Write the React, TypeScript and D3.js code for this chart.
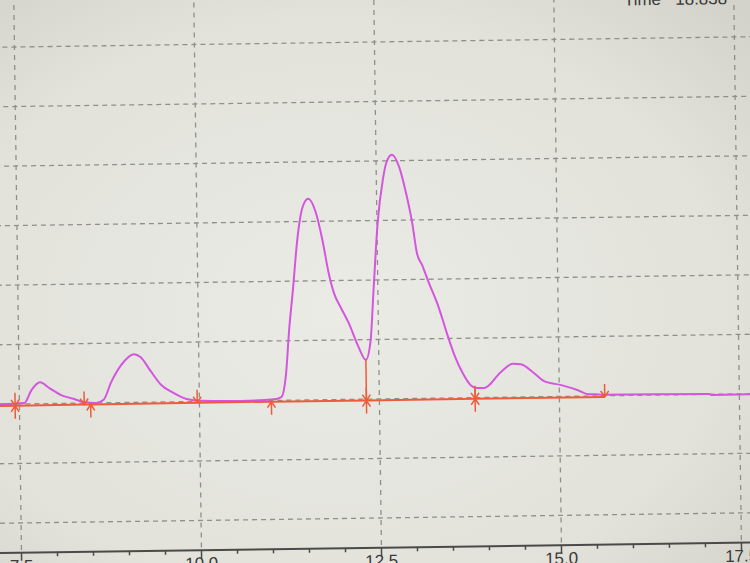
import * as d3 from "d3";

// retention time (min) and detector signal
const traceTime = [7.2, 7.57, 7.67, 7.79, 7.92, 8.08, 8.25, 8.39, 8.57, 8.67, 8.78, 8.92, 9.10, 9.19, 9.33, 9.47, 9.64, 9.82, 10.03, 10.58,
  11.07, 11.14, 11.21, 11.26, 11.32, 11.39, 11.47, 11.55, 11.65, 11.74, 11.82, 11.89, 11.98, 12.09, 12.22, 12.32,
  12.39, 12.44, 12.51, 12.59, 12.64, 12.72, 12.82, 12.90, 12.99, 13.05, 13.12, 13.21, 13.34, 13.45, 13.56, 13.66, 13.77, 13.86,
  13.96, 14.19, 14.36, 14.47, 14.65, 14.79, 15.03, 15.26, 15.40, 15.51, 15.58, 17.08, 17.12, 17.8];
const traceSignal = [0, 0.15, 2.3, 3.6, 2.6, 1.4, 0.75, 0.2, 0, 0.5, 3.5, 6.3, 8.1, 7.6, 5.2, 2.9, 1.5, 0.45, 0.1, 0,
  0.25, 0.55, 4.6, 11.8, 18.5, 26.9, 32.4, 33.8, 31.6, 26.8, 21.3, 17.9, 15.5, 12.8, 8.8, 6.6,
  9.9, 18.3, 29.6, 36.8, 39.6, 41.0, 38.9, 35.1, 29.5, 24.4, 22.4, 19.4, 15.3, 10.9, 6.9, 4.2, 2.1, 1.6,
  1.6, 4.2, 5.6, 5.5, 4.0, 2.6, 1.9, 1.0, 0.3, 0.3, 0.2, 0.05, -0.1, -0.1];

// integration baseline
const baseTime = [7.2, 7.44, 8.40, 8.49, 9.97, 11.0, 12.32, 13.83, 15.63];
const baseSignal = [-0.3, -0.3, -0.25, -0.25, -0.2, -0.2, -0.25, -0.2, -0.2];

// peak start / end markers
const markerTime = [7.44, 8.40, 8.49, 9.97, 11.0, 12.32, 13.83, 15.63];
const markerType = ["both", "down", "up", "down", "up", "both", "both", "down"];

// drop lines from valleys
const dropTime = [12.32, 13.83];
const dropTop = [6.6, 1.6];

const majorTicks = [7.5, 10.0, 12.5, 15.0, 17.5];
const gridSignal = [-20, -10, 0, 10, 20, 30, 40, 50, 60, 70];
const timeLabel = "Time   18.838";

const W = 750, H = 563;
const MAGENTA = "#d455de", RED = "#ee5b3a", GRID = "#8f8f8c";

export default function App() {
  const x = d3.scaleLinear().domain([7.5, 17.5]).range([18, 738]);
  const y = d3.scaleLinear().domain([0, 10]).range([399, 339.5]);
  const axisY = y(-25);
  const line = d3.line<number>().x((_, i) => x(traceTime[i])).y((v) => y(v)).curve(d3.curveMonotoneX);
  const baseLine = d3.line<number>().x((_, i) => x(baseTime[i])).y((v) => y(v));
  const baseAt = (t: number) => y(d3.scaleLinear().domain(baseTime).range(baseSignal)(t));
  const minor = d3.range(7.0, 18.01, 0.5);

  const marker = (t: number, type: string, i: number) => {
    const cx = x(t), cy = baseAt(t), L = 13, a = 4, h = 6;
    let d = "";
    if (type !== "up") d += `M${cx},${cy - L}L${cx},${cy}M${cx - a},${cy - h}L${cx},${cy}L${cx + a},${cy - h}`;
    if (type !== "down") d += `M${cx},${cy + L}L${cx},${cy}M${cx - a},${cy + h}L${cx},${cy}L${cx + a},${cy + h}`;
    return <path key={i} d={d} fill="none" stroke={RED} strokeWidth={1.5} />;
  };

  return (
    <svg width={W} height={H} style={{ position: "absolute", left: 0, top: 0, display: "block" }}>
      <defs>
        <radialGradient id="bg" cx="0.45" cy="0.55" r="0.75">
          <stop offset="0" stopColor="#ebebe6" />
          <stop offset="0.7" stopColor="#e2e2db" />
          <stop offset="1" stopColor="#d3d3cb" />
        </radialGradient>
      </defs>
      <rect width={W} height={H} fill="url(#bg)" />
      <g transform="rotate(-0.8 375 300)">
        {gridSignal.map((g) => (
          <line key={g} x1={-30} x2={W + 30} y1={y(g)} y2={y(g)} stroke={GRID} strokeWidth={1.3} strokeDasharray="5 4" />
        ))}
        {majorTicks.map((t) => (
          <line key={t} x1={x(t)} x2={x(t)} y1={-30} y2={axisY} stroke={GRID} strokeWidth={1.3} strokeDasharray="5 5" />
        ))}
        <path d={line(traceSignal) ?? ""} fill="none" stroke={MAGENTA} strokeWidth={2} />
        <path d={baseLine(baseSignal) ?? ""} fill="none" stroke={RED} strokeWidth={2} />
        {dropTime.map((t, i) => (
          <line key={t} x1={x(t)} x2={x(t)} y1={y(dropTop[i])} y2={baseAt(t)} stroke={RED} strokeWidth={1.5} />
        ))}
        {markerTime.map((t, i) => marker(t, markerType[i], i))}
        <line x1={-30} x2={W + 30} y1={axisY} y2={axisY} stroke="#4a4a4a" strokeWidth={2} />
        {minor.map((t) => {
          const major = majorTicks.some((m) => Math.abs(m - t) < 1e-6);
          return <line key={t} x1={x(t)} x2={x(t)} y1={axisY} y2={axisY + (major ? 8 : 4)} stroke="#4a4a4a" strokeWidth={1.5} />;
        })}
        {majorTicks.map((t) => (
          <text key={t} x={x(t)} y={axisY + 19} textAnchor="middle" fontFamily="Liberation Sans, Arial, sans-serif" fontSize={17} fill="#3a3a3a">
            {d3.format(".1f")(t)}
          </text>
        ))}
        <text x={628} y={9} fontFamily="Liberation Sans, Arial, sans-serif" fontSize={17} fill="#3a3a3a" xmlSpace="preserve">
          {timeLabel}
        </text>
      </g>
    </svg>
  );
}
